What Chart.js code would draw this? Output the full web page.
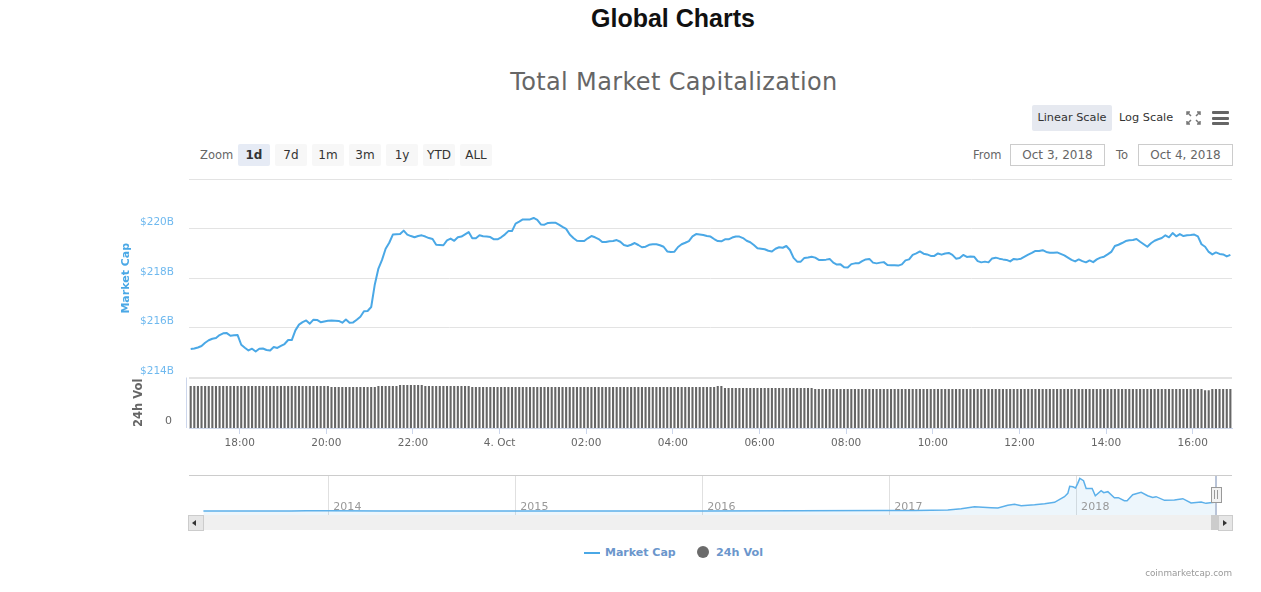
<!DOCTYPE html>
<html><head><meta charset="utf-8"><title>Global Charts</title>
<script src="https://cdn.jsdelivr.net/npm/chart.js@4"></script>
<style>
html,body{margin:0;padding:0;background:#fff;width:1261px;height:592px;overflow:hidden;font-family:"DejaVu Sans",sans-serif}
.a{position:absolute;white-space:nowrap}
canvas{position:absolute;left:0}
.btn{position:absolute;top:144px;height:22px;width:32px;line-height:22px;text-align:center;font-size:12px;background:#f7f7f7;color:#333;border-radius:2px}
.box{position:absolute;top:144px;height:20px;line-height:20px;border:1px solid #ccc;text-align:center;font-size:12px;color:#666;width:93px}
.lab{font-size:11.5px;color:#666}
.bar{position:absolute;left:1212px;width:17px;height:3px;background:#666;border-radius:1px}
</style></head><body>
<div class="a" style="left:0;width:1346px;top:4px;text-align:center;font:bold 25px 'Liberation Sans',sans-serif;color:#111">Global Charts</div>
<div class="a" style="left:0;width:1348px;top:68px;text-align:center;font-size:24px;color:#666;letter-spacing:.35px">Total Market Capitalization</div>
<div class="a" style="left:1032px;top:105px;width:80px;height:26px;line-height:26px;background:#e6e9f0;border-radius:2px;text-align:center;font-size:11.3px;color:#333">Linear Scale</div>
<div class="a" style="left:1119px;top:105px;line-height:26px;font-size:11.3px;color:#333">Log Scale</div>
<svg class="a" style="left:1186px;top:111px" width="15" height="14" stroke="#777" stroke-width="1.5" fill="none"><path d="M1 4V1H4M11 1H14V4M14 10V13H11M4 13H1V10M1 1L5 5M14 1L10 5M14 13L10 9M1 13L5 9"/></svg>
<div class="bar" style="top:111px"></div><div class="bar" style="top:116.5px"></div><div class="bar" style="top:122px"></div>
<div class="a lab" style="left:200px;top:148px">Zoom</div>
<div class="btn" style="left:238px;background:#e6ebf5;font-weight:bold">1d</div>
<div class="btn" style="left:275px">7d</div>
<div class="btn" style="left:312px">1m</div>
<div class="btn" style="left:349px">3m</div>
<div class="btn" style="left:386px">1y</div>
<div class="btn" style="left:423px">YTD</div>
<div class="btn" style="left:460px">ALL</div>
<div class="a lab" style="left:973px;top:148px">From</div>
<div class="box" style="left:1010px">Oct 3, 2018</div>
<div class="a lab" style="left:1116px;top:148px">To</div>
<div class="box" style="left:1138px">Oct 4, 2018</div>

<canvas id="main" width="1261" height="460" style="top:0;width:1261px;height:460px"></canvas>
<canvas id="nav" width="1261" height="60" style="top:460px;width:1261px;height:60px"></canvas>

<div class="a" style="left:189px;top:475px;width:1043px;height:1px;background:#ccc"></div>
<div class="a" style="left:189px;top:515px;width:1043px;height:15px;background:#f0f0f0"></div>
<div class="a" style="left:188px;top:515px;width:14px;height:14px;background:#e6e6e6;border:1px solid #ccc"></div>
<div class="a" style="left:192px;top:520px;width:0;height:0;border:3px solid transparent;border-right:4px solid #333;border-left:0"></div>
<div class="a" style="left:1211px;top:515px;width:8px;height:15px;background:#ccc"></div>
<div class="a" style="left:1218px;top:515px;width:13px;height:14px;background:#e6e6e6;border:1px solid #ccc"></div>
<div class="a" style="left:1223px;top:520px;width:0;height:0;border:3px solid transparent;border-left:4px solid #333;border-right:0"></div>
<div class="a" style="left:1215px;top:476px;width:2px;height:39px;background:#b9c4d8"></div>
<div class="a" style="left:1211px;top:487px;width:9px;height:14px;background:#f2f2f2;border:1px solid #999"></div>
<div class="a" style="left:1214px;top:490px;width:1px;height:9px;background:#999"></div>
<div class="a" style="left:1217px;top:490px;width:1px;height:9px;background:#999"></div>

<div class="a" style="left:584px;top:551.5px;width:16px;height:2px;background:#4aa8e6"></div>
<div class="a" style="left:605px;top:546px;font-size:11px;font-weight:bold;color:#6b96cc">Market Cap</div>
<div class="a" style="left:697px;top:546px;width:12px;height:12px;border-radius:50%;background:#6b6b6b"></div>
<div class="a" style="left:716px;top:546px;font-size:11.2px;font-weight:bold;color:#6b96cc">24h Vol</div>
<div class="a" style="right:29px;top:568px;font-size:8.8px;color:#999">coinmarketcap.com</div>

<script>
const seriesNames = ["Market Cap", "24h Vol"];
const startMinute = 1012.15; // first sample, minutes after midnight on 3 Oct
const stepMinutes = 5;
const priceTicks = [214, 216, 218, 220, 222];
const hourTicks = [1080, 1200, 1320, 1440, 1560, 1680, 1800, 1920, 2040, 2160, 2280, 2400];
const yearTicks = [2014, 2015, 2016, 2017, 2018];
const marketCap = [
215.15,215.17,215.21,215.27,215.40,215.50,215.56,215.59,215.71,215.78,215.79,215.68,215.70,215.71,215.32,215.20,
215.09,215.16,215.05,215.16,215.17,215.11,215.09,215.23,215.19,215.27,215.35,215.51,215.51,215.90,216.13,216.23,
216.30,216.17,216.33,216.32,216.23,216.26,216.29,216.30,216.29,216.28,216.21,216.34,216.21,216.22,216.33,216.45,
216.67,216.68,216.84,217.75,218.39,218.74,219.19,219.43,219.76,219.77,219.78,219.92,219.76,219.70,219.65,219.70,
219.73,219.68,219.62,219.58,219.35,219.34,219.33,219.53,219.60,219.51,219.65,219.68,219.77,219.86,219.61,219.61,
219.73,219.69,219.68,219.66,219.57,219.57,219.65,219.76,219.90,219.90,220.20,220.28,220.37,220.37,220.37,220.43,
220.35,220.17,220.16,220.23,220.24,220.24,220.16,220.07,219.99,219.76,219.62,219.51,219.50,219.50,219.61,219.70,
219.65,219.58,219.46,219.46,219.49,219.50,219.54,219.47,219.34,219.30,219.35,219.42,219.34,219.25,219.27,219.35,
219.37,219.37,219.33,219.27,219.08,219.06,219.07,219.26,219.37,219.43,219.50,219.69,219.78,219.76,219.74,219.70,
219.68,219.58,219.50,219.49,219.57,219.57,219.64,219.68,219.68,219.62,219.51,219.45,219.34,219.21,219.19,219.17,
219.11,219.08,219.19,219.25,219.23,219.30,219.14,218.82,218.67,218.67,218.82,218.84,218.87,218.83,218.74,218.74,
218.75,218.78,218.63,218.55,218.56,218.44,218.43,218.57,218.60,218.60,218.69,218.76,218.78,218.63,218.60,218.63,
218.65,218.53,218.52,218.52,218.51,218.56,218.72,218.76,218.94,219.00,219.08,218.99,218.96,218.90,218.90,219.00,
218.95,219.00,219.02,218.94,218.79,218.82,218.94,218.86,218.88,218.87,218.69,218.64,218.67,218.64,218.80,218.83,
218.79,218.76,218.74,218.68,218.78,218.76,218.79,218.87,218.95,219.02,219.10,219.10,219.13,219.06,219.03,219.03,
219.04,218.98,218.92,218.83,218.74,218.68,218.76,218.69,218.64,218.72,218.65,218.76,218.83,218.87,218.96,219.06,
219.30,219.35,219.42,219.50,219.53,219.54,219.58,219.47,219.37,219.27,219.41,219.51,219.57,219.62,219.73,219.65,
219.82,219.69,219.78,219.70,219.73,219.74,219.76,219.69,219.37,219.27,219.06,218.96,219.04,218.98,218.96,218.88,218.94
];
const volume24h = [
12.5,12.5,12.5,12.5,12.5,12.5,12.5,12.5,12.5,12.5,12.5,12.5,12.5,12.5,12.5,12.5,12.5,12.5,12.5,12.5,
12.5,12.5,12.5,12.5,12.5,12.5,12.5,12.5,12.5,12.5,12.5,12.5,12.5,12.5,12.5,12.5,12.5,12.5,12.5,
12.2,12.2,12.2,12.2,12.2,12.2,12.2,12.2,12.2,12.2,12.2,12.2,12.2,
12.5,12.5,12.5,12.5,12.5,12.5,
12.8,12.8,12.8,12.8,12.8,12.8,12.8,
12.5,12.5,12.5,12.5,12.5,12.5,12.5,12.5,12.5,12.5,12.5,12.5,12.5,
12.2,12.2,12.2,12.2,12.2,12.2,12.2,12.2,12.2,12.2,12.2,12.2,12.2,12.2,12.2,12.2,12.2,12.2,12.2,12.2,12.2,12.2,
12.2,12.2,12.2,12.2,12.2,12.2,12.2,12.2,12.2,12.2,12.2,12.2,12.2,12.2,12.2,12.2,12.2,12.2,12.2,12.2,12.2,12.2,
12.2,12.2,12.2,12.2,12.2,12.2,12.2,12.2,12.2,12.2,12.2,12.2,12.2,12.2,12.2,12.2,12.2,12.2,12.2,12.2,12.2,12.2,12.2,12.2,
12.5,12.5,
11.9,11.9,11.9,11.9,11.9,11.9,11.9,11.9,11.9,11.9,11.9,11.9,11.9,11.9,11.9,11.9,11.9,11.9,11.9,11.9,11.9,11.9,11.9,11.9,11.9,
11.6,11.6,11.6,11.6,11.6,11.6,11.6,11.6,11.6,11.6,11.6,11.6,11.6,11.6,11.6,11.6,11.6,11.6,11.6,11.6,11.6,11.6,11.6,11.6,11.6,11.6,11.6,
11.6,11.6,11.6,11.6,11.6,11.6,11.6,11.6,11.6,11.6,11.6,11.6,11.6,11.6,11.6,11.6,11.6,11.6,11.6,11.6,11.6,11.6,11.6,11.6,11.6,11.6,11.6,
11.6,11.6,11.6,11.6,11.6,11.6,11.6,11.6,11.6,11.6,11.6,11.6,11.6,11.6,11.6,11.6,11.6,11.6,11.6,11.6,11.6,11.6,11.6,11.6,11.6,11.6,11.6,
11.6,11.6,11.6,11.6,11.6,11.6,11.6,11.6,11.6,11.6,11.6,11.6,11.6,11.6,11.6,11.6,11.6,11.6,11.6,11.6,11.6,11.6,11.6,11.6,11.6,11.6,11.6,
11.2,11.2,
11.6,11.6,11.6,11.6,11.6,11.6,11.6,11.6
];
const navYears = [2013.33,2013.8,2013.88,2014.0,2014.3,2015.0,2016.0,2016.5,2016.955,2017.005,2017.133,2017.311,2017.383,2017.454,2017.543,2017.579,2017.632,2017.668,2017.704,2017.775,2017.829,2017.882,2017.935,2017.953,2017.963,2017.98,2017.994,2018.006,2018.017,2018.037,2018.051,2018.083,2018.1,2018.131,2018.145,2018.167,2018.202,2018.223,2018.255,2018.27,2018.3,2018.345,2018.38,2018.407,2018.425,2018.47,2018.523,2018.568,2018.612,2018.666,2018.692,2018.737,2018.751];
const navCap = [2,3,10,12,7,5,7,10,15,17,20,29,62,112,87,79,145,169,136,161,186,219,359,441,614,605,573,688,811,754,564,564,383,507,457,482,334,334,260,260,408,466,383,342,359,268,276,309,202,227,194,219,220];

const hourLabel = v => v === 1440 ? "4. Oct" : String(Math.floor(v / 60) % 24).padStart(2, "0") + ":00";
const times = marketCap.map((_, i) => startMinute + i * stepMinutes);
const capPoints = marketCap.map((y, i) => ({x: times[i], y}));
const volPoints = volume24h.map((y, i) => ({x: times[i], y}));

const volAxisLine = {id: "volAxisLine", afterDraw(c) {
  const s = c.scales.yVol, x = c.chartArea.left - 2.5, g = c.ctx;
  g.save(); g.strokeStyle = "#ccd6eb"; g.lineWidth = 1;
  g.beginPath(); g.moveTo(x, s.top); g.lineTo(x, s.bottom); g.stroke(); g.restore();
}};
const yearLabels = {id: "yearLabels", afterDatasetsDraw(c) {
  const s = c.scales.x, g = c.ctx;
  g.save(); g.fillStyle = "#999"; g.font = "11px 'DejaVu Sans'"; g.textBaseline = "middle"; g.textAlign = "left";
  g.letterSpacing = "0.1px";
  yearTicks.forEach(v => g.fillText(String(v), s.getPixelForValue(v) + 4.5, c.chartArea.bottom - 7.5));
  g.restore();
}};

new Chart(document.getElementById("main"), {
  type: "bar",
  plugins: [volAxisLine],
  data: {datasets: [
    {type: "line", label: seriesNames[0], data: capPoints, yAxisID: "y", xAxisID: "x", borderColor: "#4aa8e6", borderWidth: 2, pointRadius: 0, tension: 0, order: 0, borderJoinStyle: "round"},
    {type: "bar", label: seriesNames[1], data: volPoints, yAxisID: "yVol", xAxisID: "x", backgroundColor: "#666", barThickness: 2.1, inflateAmount: 0, order: 1}
  ]},
  options: {
    responsive: false, animation: false, devicePixelRatio: 1,
    layout: {padding: {left: 120, top: 179, right: 29, bottom: 0}},
    plugins: {legend: {display: false}, tooltip: {enabled: false}},
    scales: {
      x: {type: "linear", position: "bottom", min: 1009.8, max: 2454.4, offset: false,
        afterFit(s) { s.height = 32; },
        afterBuildTicks(s) { s.ticks = hourTicks.map(value => ({value})); },
        grid: {offset: false, drawOnChartArea: false, drawTicks: true, tickLength: 6, tickColor: "#ccd6eb"},
        border: {color: "#ccd6eb"},
        ticks: {autoSkip: false, maxRotation: 0, padding: 3, color: "#666", font: {family: "DejaVu Sans", size: 10.5}, callback: hourLabel}},
      yVol: {type: "linear", position: "left", stack: "v", stackWeight: 50.5, min: 0, max: 15,
        afterFit(s) { s.width = 69; },
        afterBuildTicks(s) { s.ticks = [{value: 0}]; },
        grid: {display: false},
        border: {display: false},
        title: {display: true, text: seriesNames[1], color: "#666", font: {family: "DejaVu Sans", size: 11.5, weight: "bold"}, padding: {top: 12, bottom: 0}},
        ticks: {autoSkip: false, padding: 9, color: "#666", font: {family: "DejaVu Sans", size: 11}, callback: v => ["" + v, ""]}},
      y: {type: "linear", position: "left", stack: "v", stackWeight: 198.5, min: 214, max: 222,
        afterFit(s) { s.width = 69; },
        afterBuildTicks(s) { s.ticks = priceTicks.map(value => ({value})); },
        grid: {color: "#e3e3e3", lineWidth: c => c.tick && c.tick.value === 214 ? 2 : 1, drawTicks: false},
        border: {display: false},
        title: {display: true, text: seriesNames[0], color: "#4aa8e6", font: {family: "DejaVu Sans", size: 11, weight: "bold"}, padding: {top: 0, bottom: 0}},
        ticks: {autoSkip: false, padding: 15, color: "#6fb9ef", font: {family: "DejaVu Sans", size: 10.5}, callback: v => v === 222 ? "" : ["$" + v + "B", ""]}}
    }
  }
});

new Chart(document.getElementById("nav"), {
  type: "line",
  plugins: [yearLabels],
  data: {datasets: [{label: seriesNames[0], data: navYears.map((x, i) => ({x, y: navCap[i]})), borderColor: "#5cb0ea", borderWidth: 1.5, pointRadius: 0, tension: 0, fill: "start", backgroundColor: "rgba(74,168,230,0.1)"}]},
  options: {
    responsive: false, animation: false, devicePixelRatio: 1,
    layout: {padding: {left: 189, top: 16, right: 29, bottom: 5}},
    plugins: {legend: {display: false}, tooltip: {enabled: false}},
    scales: {
      x: {type: "linear", min: 2013.253, max: 2018.831,
        afterFit(s) { s.height = 0; },
        afterBuildTicks(s) { s.ticks = yearTicks.map(value => ({value})); },
        grid: {color: "#e0e0e0", drawTicks: false},
        border: {display: false},
        ticks: {display: false}},
      y: {type: "linear", display: false, min: -94, max: 870}
    }
  }
});
</script>
</body></html>
